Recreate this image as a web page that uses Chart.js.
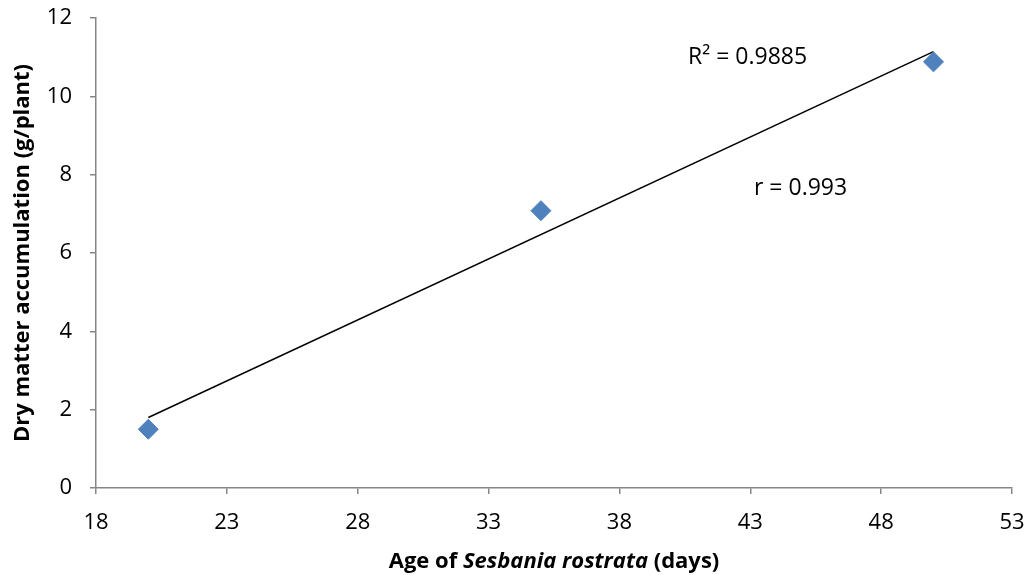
<!DOCTYPE html>
<html>
<head>
<meta charset="utf-8">
<script src="https://cdn.jsdelivr.net/npm/chart.js@4.4.0/dist/chart.umd.min.js"></script>
<style>
  body { margin: 0; background: #fff; }
  #wrap { width: 1032px; height: 575px; }
</style>
</head>
<body>
<div id="wrap"><canvas id="scatterChart" width="1032" height="575"></canvas></div>
<script>
// data
const ageDays = [20, 35, 50];
const dryMatter = [1.5, 7.08, 10.88];
const trendX = [20, 50];
const trendY = [1.8, 11.14];
const xTicks = [18, 23, 28, 33, 38, 43, 48, 53];
const yTicks = [0, 2, 4, 6, 8, 10, 12];

const axisGray = '#868686';
const fontFam = "'Open Sans', sans-serif";

// axis titles + annotations drawn by hand (x title mixes italic)
const textPlugin = {
    id: 'textPlugin',
    afterDraw(chart) {
        const ctx = chart.ctx;
        ctx.save();
        ctx.fillStyle = '#000';
        ctx.textBaseline = 'middle';

        // x title
        const parts = [
            ['bold 22px ' + fontFam, 'Age of '],
            ['italic bold 22px ' + fontFam, 'Sesbania rostrata'],
            ['bold 22px ' + fontFam, ' (days)']
        ];
        let total = 0;
        parts.forEach(p => { ctx.font = p[0]; total += ctx.measureText(p[1]).width; });
        let x = 554 - total / 2;
        ctx.textAlign = 'left';
        parts.forEach(p => {
            ctx.font = p[0];
            ctx.fillText(p[1], x, 562);
            x += ctx.measureText(p[1]).width;
        });

        // y title
        ctx.save();
        ctx.translate(23, 253);
        ctx.rotate(-Math.PI / 2);
        ctx.textAlign = 'center';
        ctx.font = 'bold 22px ' + fontFam;
        ctx.fillText('Dry matter accumulation (g/plant)', 0, 0);
        ctx.restore();

        // annotations
        ctx.font = '23px ' + fontFam;
        ctx.textAlign = 'left';
        ctx.fillText('R\u00B2 = 0.9885', 688, 57);
        ctx.fillText('r = 0.993', 754, 188);
        ctx.restore();
    }
};

const ctx = document.getElementById('scatterChart').getContext('2d');
const scatterChart = new Chart(ctx, {
    type: 'scatter',
    data: {
        datasets: [{
            label: 'Dry matter',
            data: ageDays.map((a, i) => ({ x: a, y: dryMatter[i] })),
            pointStyle: 'rectRot',
            pointRadius: 10,
            pointHoverRadius: 10,
            backgroundColor: '#4F81BD',
            borderColor: '#4F81BD',
            borderWidth: 1
        }, {
            label: 'Linear',
            type: 'line',
            data: trendX.map((a, i) => ({ x: a, y: trendY[i] })),
            borderColor: '#000',
            borderWidth: 1.5,
            pointRadius: 0,
            fill: false
        }]
    },
    options: {
        responsive: false,
        animation: false,
        layout: { padding: { left: 0, right: 20, top: 18, bottom: 0 } },
        plugins: {
            legend: { display: false },
            tooltip: { enabled: false }
        },
        scales: {
            x: {
                type: 'linear',
                min: 18,
                max: 53,
                afterBuildTicks: axis => { axis.ticks = xTicks.map(v => ({ value: v })); },
                afterFit: axis => {
                    axis.height = 87;
                    axis.paddingLeft = 0;
                    axis.paddingRight = 0;
                },
                grid: {
                    drawOnChartArea: false,
                    drawTicks: true,
                    tickLength: 6,
                    color: axisGray,
                    lineWidth: 1.5
                },
                border: { color: axisGray, width: 1.5 },
                ticks: {
                    color: '#000',
                    font: { family: fontFam, size: 22 },
                    padding: 16,
                    maxRotation: 0
                }
            },
            y: {
                min: 0,
                max: 12,
                afterBuildTicks: axis => { axis.ticks = yTicks.map(v => ({ value: v })); },
                afterFit: axis => {
                    axis.width = 96;
                    axis.paddingTop = 0;
                    axis.paddingBottom = 0;
                },
                grid: {
                    drawOnChartArea: false,
                    drawTicks: true,
                    tickLength: 6,
                    color: axisGray,
                    lineWidth: 1.5
                },
                border: { color: axisGray, width: 1.5 },
                ticks: {
                    color: '#000',
                    font: { family: fontFam, size: 22 },
                    padding: 18
                }
            }
        }
    },
    plugins: [textPlugin]
});
</script>
</body>
</html>
